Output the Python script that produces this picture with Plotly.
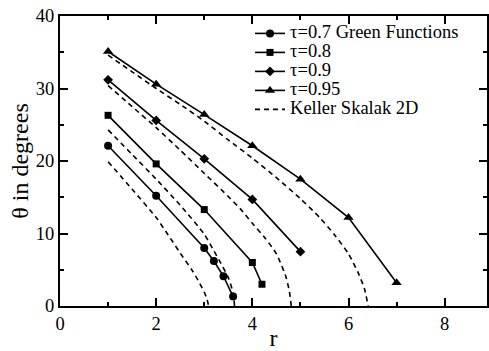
import plotly.graph_objects as go

# Green Functions data
r_07 = [1, 2, 3, 3.2, 3.4, 3.6]
th_07 = [22.1, 15.2, 8.0, 6.2, 4.1, 1.3]
r_08 = [1, 2, 3, 4, 4.2]
th_08 = [26.3, 19.6, 13.3, 6.0, 3.0]
r_09 = [1, 2, 3, 4, 5]
th_09 = [31.2, 25.6, 20.3, 14.7, 7.5]
r_095 = [1, 2, 3, 4, 5, 6, 7]
th_095 = [35.1, 30.6, 26.4, 22.1, 17.5, 12.2, 3.2]

# Keller Skalak 2D curves
ks1_r = [1.0, 1.5, 2.0, 2.25, 2.5, 2.75, 2.9, 3.0, 3.06, 3.09]
ks1_t = [19.9, 16.1, 12.2, 9.8, 7.3, 4.9, 3.2, 1.9, 0.9, 0.0]
ks2_r = [1.0, 1.5, 2.0, 2.5, 3.0, 3.2, 3.32, 3.5, 3.6, 3.63]
ks2_t = [24.3, 20.9, 17.5, 13.9, 9.9, 7.6, 6.2, 3.9, 1.8, 0.0]
ks3_r = [1.0, 1.5, 2.0, 2.5, 3.0, 3.5, 3.75, 4.0, 4.25, 4.5, 4.7, 4.77, 4.81]
ks3_t = [30.4, 27.5, 24.6, 21.5, 18.3, 15.1, 13.4, 11.4, 9.5, 7.2, 4.0, 2.0, 0.0]
ks4_r = [1.0, 1.5, 2.0, 2.5, 3.0, 3.5, 4.0, 4.5, 5.0, 5.4, 5.7, 6.0, 6.2, 6.33, 6.41]
ks4_t = [34.6, 32.3, 30.0, 27.8, 25.5, 22.9, 20.4, 17.7, 14.8, 12.2, 9.9, 7.2, 4.6, 2.4, 0.0]

x_ticks = [0, 2, 4, 6, 8]
y_ticks = [0, 10, 20, 30, 40]

FONT = "Liberation Serif"
LW = 1.6


def lbl(t):
    return "<span style='font-size:18.5px'>" + t + "</span>"


fig = go.Figure()
series = [
    (r_07, th_07, "circle", 8, "τ=0.7 Green Functions"),
    (r_08, th_08, "square", 7, "τ=0.8"),
    (r_09, th_09, "diamond", 7.5, "τ=0.9"),
    (r_095, th_095, "triangle-up", 9, "τ=0.95"),
]
for xs, ys, sym, sz, name in series:
    fig.add_trace(go.Scatter(
        x=xs, y=ys, mode="lines+markers", name=lbl(name),
        line=dict(color="black", width=LW),
        marker=dict(symbol=sym, size=sz, color="black"),
    ))

ks = [(ks1_r, ks1_t), (ks2_r, ks2_t), (ks3_r, ks3_t), (ks4_r, ks4_t)]
for i, (xs, ys) in enumerate(ks):
    fig.add_trace(go.Scatter(
        x=xs, y=ys, mode="lines", name=lbl("Keller Skalak 2D"),
        showlegend=(i == 0), legendgroup="ks",
        line=dict(color="black", width=LW, dash="5px,4px", shape="spline", smoothing=0.6),
    ))

axis_common = dict(
    showgrid=False, zeroline=False, showline=True, linecolor="black", linewidth=2,
    ticks="inside", ticklen=8, tickwidth=1.5, tickcolor="black", mirror="ticks",
    tickfont=dict(family=FONT, size=18.5, color="black"),
)

fig.update_layout(
    width=489, height=351,
    margin=dict(l=60, r=0, t=16, b=42),
    paper_bgcolor="white", plot_bgcolor="white",
    font=dict(family=FONT, color="black"),
    xaxis=dict(range=[0, 8.88], tickvals=x_ticks, ticktext=[str(v) for v in x_ticks],
               minor=dict(ticks="inside", ticklen=4, tickwidth=1.5, tickcolor="black", dtick=1, tick0=0),
               title=dict(text="r", font=dict(family=FONT, size=24), standoff=0),
               **axis_common),
    yaxis=dict(range=[0, 40], tickvals=y_ticks, ticktext=[str(v) for v in y_ticks],
               minor=dict(ticks="inside", ticklen=4, tickwidth=1.5, tickcolor="black", dtick=5, tick0=0),
               title=dict(text="θ in degrees", font=dict(family=FONT, size=24), standoff=0),
               **axis_common),
    legend=dict(x=0.445, y=0.99, xanchor="left", yanchor="top",
                bgcolor="rgba(0,0,0,0)", borderwidth=0,
                font=dict(family=FONT, size=10.5, color="black"),
                tracegroupgap=0),
    showlegend=True,
)

fig.write_html("out.html")
